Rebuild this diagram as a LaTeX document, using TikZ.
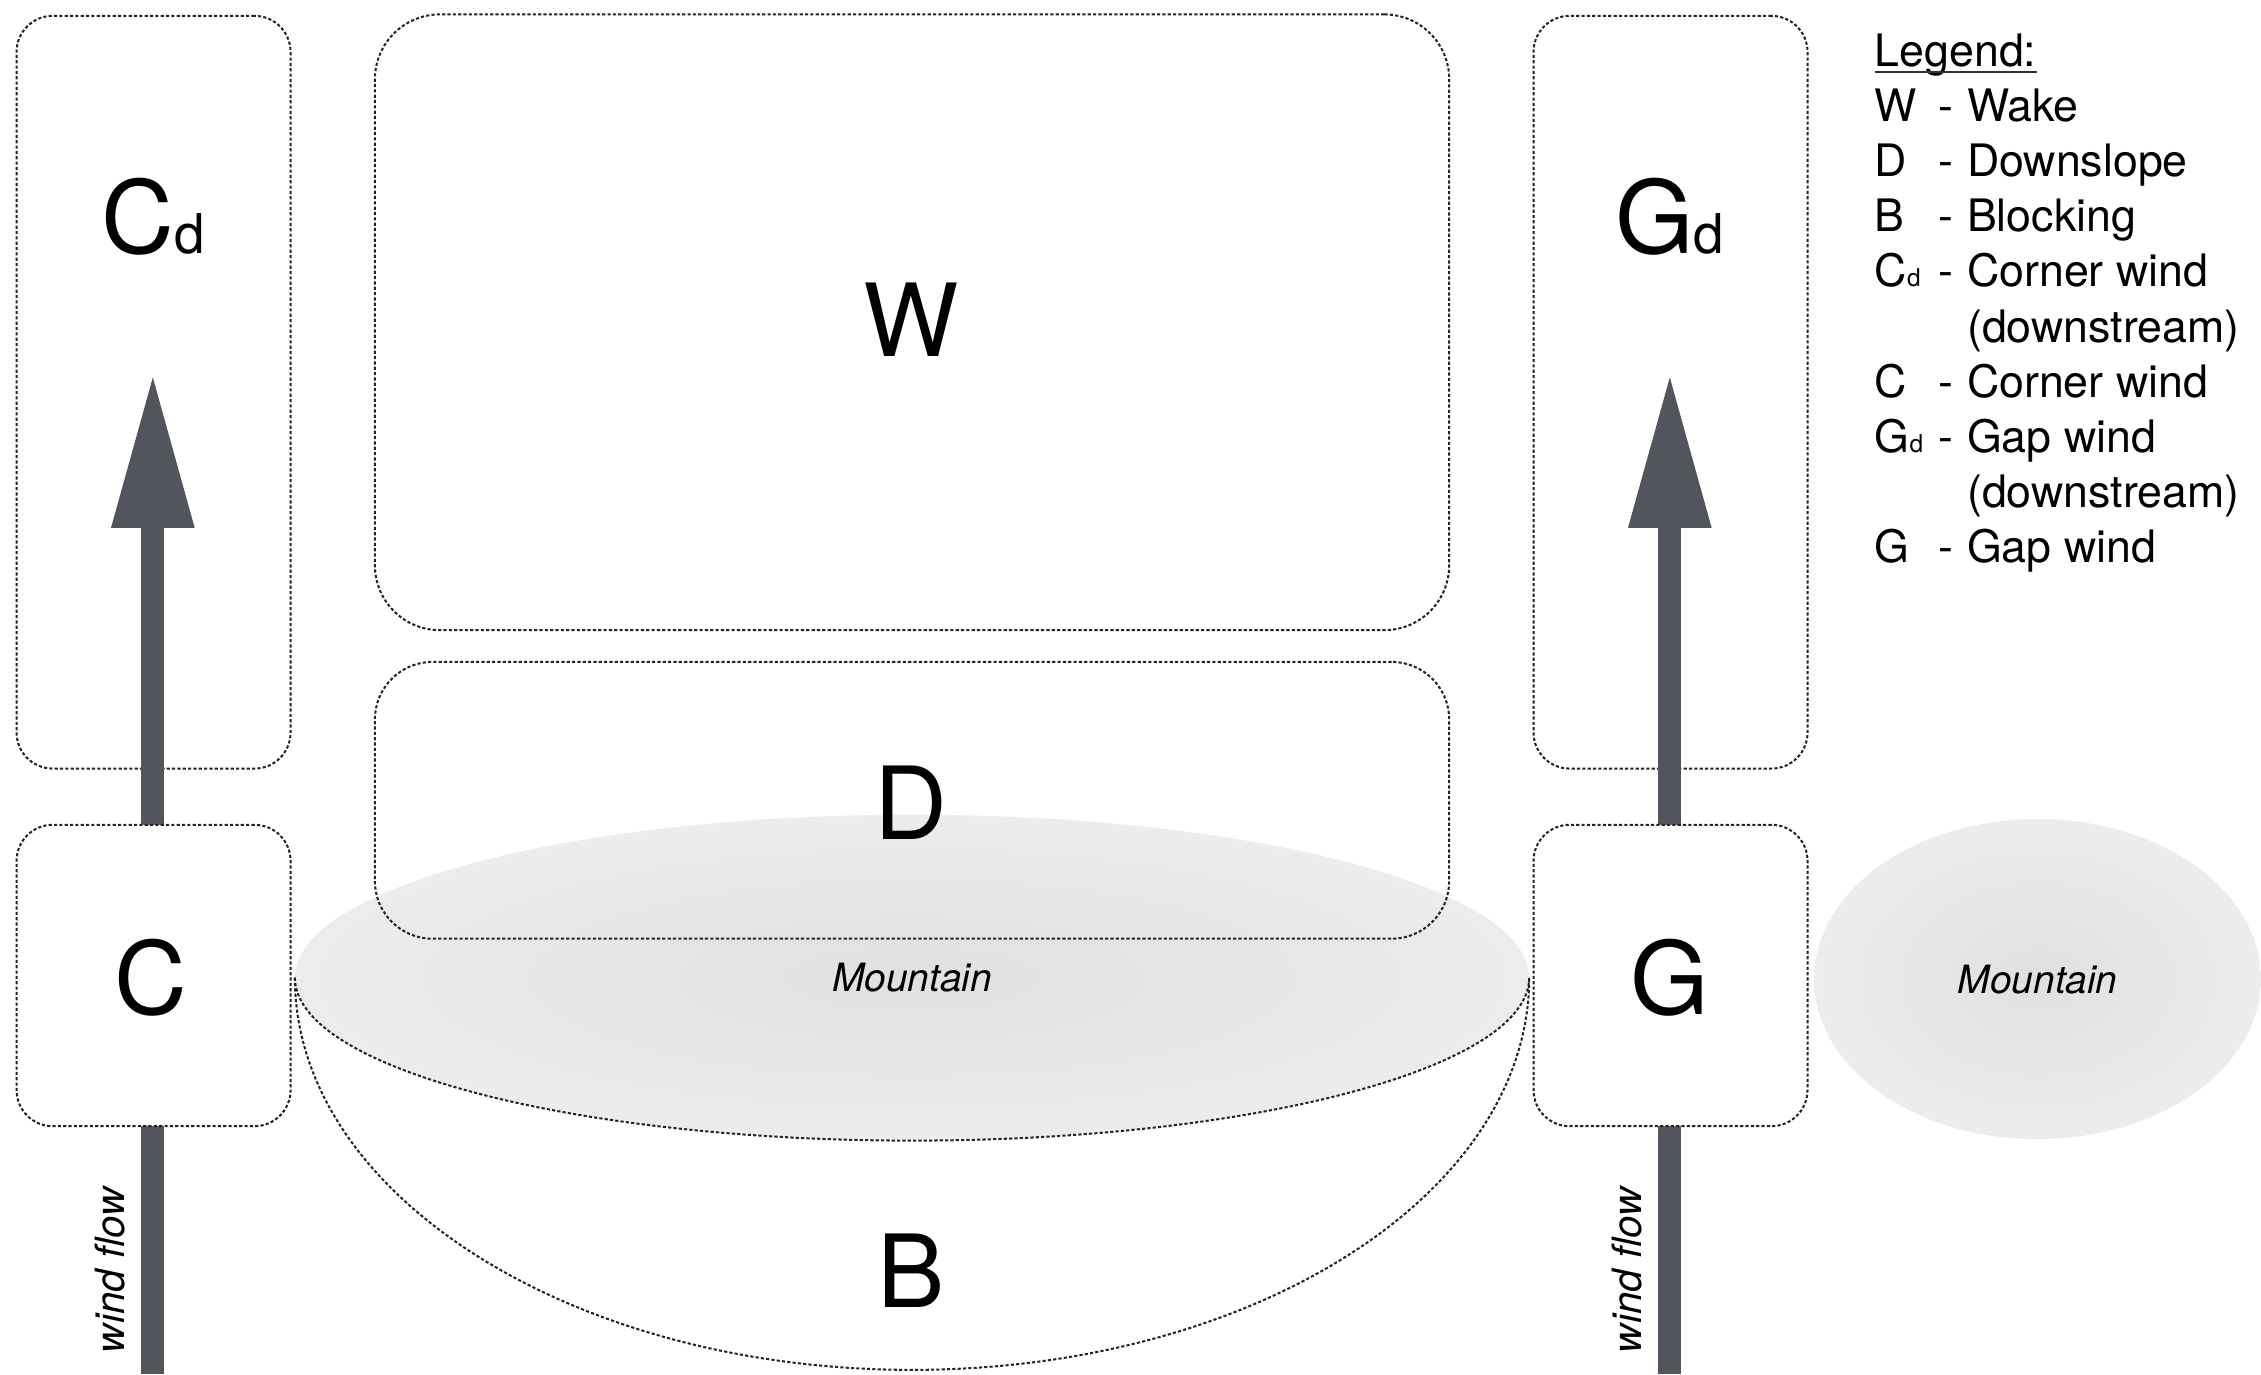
\documentclass[tikz,border=0pt]{standalone}
\usepackage{fontspec}
\setmainfont{TeX Gyre Heros}
\usetikzlibrary{shapes.geometric,arrows.meta}
\definecolor{arrowgray}{RGB}{82,85,91}
\definecolor{linegray}{RGB}{35,35,35}
\definecolor{mtninner}{RGB}{224,224,226}
\definecolor{mtnouter}{RGB}{236,236,237}
\newcommand\lgrow[2]{\makebox[44pt][l]{#1}\makebox[20pt][l]{-}#2}
\newcommand\lgsubd{{\fontsize{17}{17}\selectfont d}}
\newcommand\bigsubd{{\fontsize{38}{38}\selectfont d}}
\begin{document}
\begin{tikzpicture}[x=1pt,y=1pt,
  zone/.style={draw=linegray, line width=1.4pt, dash pattern=on 2.2pt off 1.5pt,
    rounded corners=#1, inner sep=0pt, outer sep=0pt},
  zone/.default=25pt,
  dotline/.style={draw=linegray, line width=1.4pt, dash pattern=on 2.2pt off 1.5pt},
  bigletter/.style={font=\fontsize{70}{70}\selectfont, inner sep=0pt},
  mountain/.style={ellipse, inner sep=0pt, outer sep=0pt, shade,
    inner color=mtninner, outer color=mtnouter,
    font=\fontsize{27}{27}\selectfont\itshape},
  windlbl/.style={font=\fontsize{28}{28}\selectfont\itshape, inner sep=0pt, rotate=90},
  windarrow/.style={draw=arrowgray, line width=16pt,
    -{Triangle[length=108pt 0, width=53pt 0, fill=arrowgray]}},
  legend/.style={font=\fontsize{31}{31}\selectfont, anchor=base west, inner sep=0pt}
]
\useasboundingbox (0,0) rectangle (1568,-953);

% mountains
\node[mountain, minimum width=856pt, minimum height=226pt] (mtn) at (632.5,-678) {Mountain};
\node[mountain, minimum width=310pt, minimum height=222pt] (mtn2) at (1413,-679) {Mountain};

% upper zones
\node[zone, minimum width=190pt, minimum height=522pt] (boxCd) at (106.5,-272) {};
\node[zone=45pt, minimum width=745pt, minimum height=427pt] (boxW) at (632.5,-223.5) {};
\node[zone, minimum width=190pt, minimum height=522pt] (boxGd) at (1158.5,-272) {};
\node[zone=40pt, minimum width=745pt, minimum height=192pt] (boxD) at (632.5,-555) {};

% wind arrows
\coordinate (lbot) at (106,-953);
\coordinate (ltip) at (106,-258);
\coordinate (rbot) at (1158,-953);
\coordinate (rtip) at (1158,-258);
\draw[windarrow] (lbot) -- (ltip);
\draw[windarrow] (rbot) -- (rtip);

% corner / gap zones (cover the arrow shafts)
\node[zone, fill=white, minimum width=190pt, minimum height=209pt] (boxC) at (106.5,-676.5) {};
\node[zone, fill=white, minimum width=190pt, minimum height=209pt] (boxG) at (1158.5,-676.5) {};

% blocking zone and mountain lower edge
\draw[dotline] (mtn.west) arc[start angle=180, end angle=360, x radius=428, y radius=113];
\draw[dotline] (mtn.west) arc[start angle=180, end angle=360, x radius=428, y radius=272];

% labels
\node[bigletter] (lW) at (632,-222) {W};
\node[bigletter] (lD) at (632,-557) {D};
\node[bigletter] (lB) at (632,-881) {B};
\node[bigletter] (lC) at (105,-678) {C};
\node[bigletter] (lG) at (1158,-678) {G};
\node[bigletter] (lCd) at (106,-150) {C\bigsubd};
\node[bigletter] (lGd) at (1158,-150) {G\bigsubd};

\node[windlbl] (wfL) at (76,-881) {wind flow};
\node[windlbl] (wfR) at (1128,-881) {wind flow};

% legend
\node[legend] (lg0) at (1300,-46) {Legend:};
\draw[line width=1pt, black!80] ([yshift=-4pt]lg0.base west) -- ([yshift=-4pt]lg0.base east);
\node[legend] (lg1) at (1300,-84) {\lgrow{W}{Wake}};
\node[legend] (lg2) at (1300,-122.3) {\lgrow{D}{Downslope}};
\node[legend] (lg3) at (1300,-160.6) {\lgrow{B}{Blocking}};
\node[legend] (lg4) at (1300,-198.9) {\lgrow{C\lgsubd}{Corner wind}};
\node[legend] (lg5) at (1364,-237.2) {(downstream)};
\node[legend] (lg6) at (1300,-275.5) {\lgrow{C}{Corner wind}};
\node[legend] (lg7) at (1300,-313.8) {\lgrow{G\lgsubd}{Gap wind}};
\node[legend] (lg8) at (1364,-352.1) {(downstream)};
\node[legend] (lg9) at (1300,-390.4) {\lgrow{G}{Gap wind}};
\end{tikzpicture}
\end{document}
